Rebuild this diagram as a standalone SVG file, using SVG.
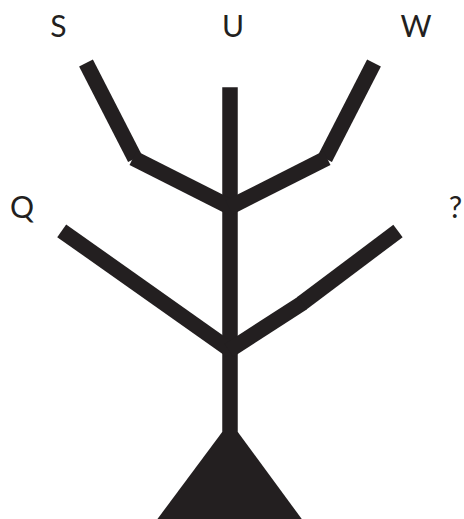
<svg xmlns="http://www.w3.org/2000/svg" width="464" height="519" viewBox="0 0 464 519">
<style>
.br{stroke:#231f20;stroke-width:15.5;fill:none;stroke-linecap:butt}
.lbl{font-family:Lato,"Liberation Sans",Arial,sans-serif;font-weight:400;font-size:30px;fill:#231f20;text-anchor:middle}
</style>
<rect width="464" height="519" fill="#fff"/>
<g id="connectors">
<line class="br" x1="230" y1="87.3" x2="230" y2="436"/>
<line class="br" x1="86" y1="63" x2="135" y2="158.5"/>
<line class="br" x1="133" y1="158" x2="231" y2="207.5"/>
<line class="br" x1="374" y1="63" x2="325" y2="158.5"/>
<line class="br" x1="327" y1="158" x2="229" y2="207.5"/>
<line class="br" x1="61.7" y1="230.8" x2="231" y2="350.5"/>
<line class="br" x1="398" y1="231" x2="301.5" y2="303.5"/>
<line class="br" x1="302.5" y1="303" x2="229" y2="350.5"/>
<polygon points="222.2,432 237.8,432 302.5,520 156.7,520" fill="#231f20"/>
</g>
<g id="node-S"><text class="lbl" x="58.5" y="37">S</text></g>
<g id="node-U"><text class="lbl" x="233" y="37">U</text></g>
<g id="node-W"><text class="lbl" x="416" y="37">W</text></g>
<g id="node-Q"><text class="lbl" x="22" y="218">Q</text></g>
<g id="node-q"><text class="lbl" x="455.5" y="218">?</text></g>
</svg>
